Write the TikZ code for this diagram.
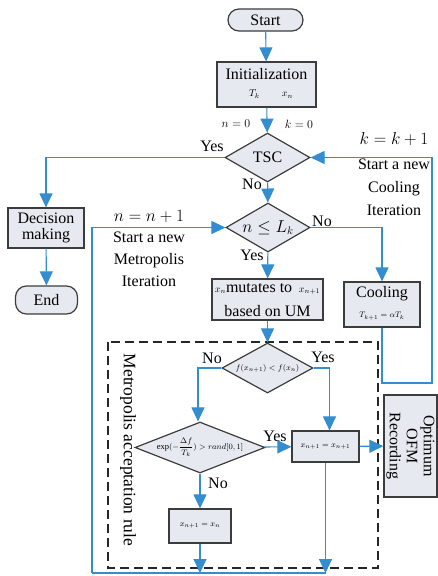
\documentclass[tikz,border=0pt]{standalone}
\usepackage{fontspec}
\setmainfont{Liberation Serif}
\usetikzlibrary{shapes.geometric,arrows.meta}
\definecolor{flowblue}{RGB}{52,141,207}
\definecolor{boxfill}{RGB}{230,234,240}
\definecolor{boxline}{RGB}{60,60,60}
\tikzset{
 box/.style={draw=boxline, fill=boxfill, line width=1.2pt, inner sep=1pt, align=center},
 term/.style={box, rounded corners=11pt},
 dia/.style={draw=boxline, fill=boxfill, line width=1.2pt, diamond, inner sep=0pt, align=center},
 flow/.style={draw=flowblue, line width=1.1pt, -{Triangle[length=14pt,width=13pt]}},
 plain/.style={draw=flowblue, line width=1.1pt},
 lbl/.style={inner sep=0pt, align=center},
 smallmath/.style={inner sep=0pt, font=\fontsize{10}{12}\selectfont},
 tinymath/.style={inner sep=0pt, font=\fontsize{8.5}{10}\selectfont},
 mbox/.style={draw=black!85, line width=2.6pt, dash pattern=on 9pt off 5pt},
}
\begin{document}
\begin{tikzpicture}[x=1pt,y=-1pt, font=\fontsize{16}{18}\selectfont]
\useasboundingbox (0,0) rectangle (437,576);

% dashed Metropolis box
\draw[mbox] (108,342) rectangle (378,568);
\node[lbl, rotate=-90, font=\fontsize{17.5}{20}\selectfont] (mar) at (128,450) {Metropolis acceptation rule};

% nodes
\node[term, minimum width=75pt, minimum height=22pt] (start) at (265.5,20) {Start};
\node[box, minimum width=99pt, minimum height=45pt] (init) at (266.5,84.5) {};
\node[lbl] (initT) at (266.5,74) {Initialization};
\node[smallmath] (initV) at (271,94) {$T_k$\hspace{22pt}$x_n$};
\node[lbl, font=\fontsize{13}{15}\selectfont] (n0) at (236,124) {$n=0$};
\node[lbl, font=\fontsize{13}{15}\selectfont] (k0) at (299,124) {$k=0$};

\node[dia, minimum width=85pt, minimum height=49pt] (tsc) at (267.5,157.5) {TSC};
\node[box, minimum width=76pt, minimum height=40pt] (dec) at (46,228) {Decision\\[-2pt]making};
\node[term, minimum width=62pt, minimum height=28pt] (end) at (46.5,300) {End};

\node[dia, minimum width=84pt, minimum height=49pt] (nl) at (268,227.5) {};
\node[lbl] (nlT) at (268,227.5) {$n\le L_k$};

\node[box, minimum width=111pt, minimum height=41pt] (mut) at (267.5,299.5) {};
\node[lbl] (mutA) at (267.5,289) {{\fontsize{10}{12}\selectfont$x_n$}mutates to \,{\fontsize{10}{12}\selectfont$x_{n+1}$}};
\node[lbl] (mutB) at (267.5,311) {based on UM};

\node[box, minimum width=76pt, minimum height=45pt] (cool) at (382,304.5) {};
\node[lbl] (coolA) at (382,294) {Cooling};
\node[tinymath] (coolB) at (382,316) {$T_{k+1}=\alpha T_k$};

\node[dia, minimum width=91pt, minimum height=50pt] (fd) at (267.5,368) {};
\node[tinymath] (fdT) at (267.5,368) {$f(x_{n+1})<f(x_n)$};

\node[dia, minimum width=130pt, minimum height=51pt] (ed) at (200,447.5) {};
\node[tinymath] (edT) at (200,447.5) {$\displaystyle\exp(-\frac{\Delta f}{T_k})>rand[0,1]$};

\node[box, minimum width=67pt, minimum height=31pt] (b1) at (325.5,446.5) {};
\node[tinymath] (b1T) at (325.5,446.5) {$x_{n+1}=x_{n+1}$};

\node[box, minimum width=62pt, minimum height=34pt] (b2) at (200,526) {};
\node[tinymath] (b2T) at (200,526) {$x_{n+1}=x_n$};

\node[box, minimum width=53pt, minimum height=102pt] (ofm) at (410.5,446) {};
\node[lbl, rotate=-90] (ofmT) at (410.5,446) {Optimum\\[-1pt]OFM\\[-1pt]Recording};

% side labels
\node[lbl] (nn) at (149,216) {$n=n+1$};
\node[lbl] (nn2) at (149,259) {Start a new\\[4pt]Metropolis\\[4pt]Iteration};
\node[lbl] (kk) at (394,139) {$k=k+1$};
\node[lbl] (kk2) at (394,187) {Start a new\\[5pt]Cooling\\[5pt]Iteration};

% yes/no labels
\node[lbl] (y1) at (212,146) {Yes};
\node[lbl] (no1) at (252,184) {No};
\node[lbl] (no2) at (322,221) {No};
\node[lbl] (y2) at (252,255) {Yes};
\node[lbl] (no3) at (212,358) {No};
\node[lbl] (y3) at (323,357) {Yes};
\node[lbl] (y4) at (275,436) {Yes};
\node[lbl] (no4) at (218,483) {No};

% coordinates
\coordinate (c1) at (382,383);
\coordinate (c2) at (432,383);
\coordinate (m0) at (92,573);
\coordinate (m1) at (200,573);
\coordinate (m2) at (325.5,573);

% connectors
\draw[flow] (start) -- (init);
\draw[flow] (init) -- (tsc);
\draw[flow] (tsc.west) -| (dec.north);
\draw[flow] (dec) -- (end);
\draw[flow] (tsc) -- (nl);
\draw[flow] (nl.east) -| (cool.north);
\draw[flow] (nl) -- (mut);
\draw[flow] (cool.south) -- (c1) -- (c2) |- (tsc.east);
\draw[flow] (mut) -- (fd);
\draw[flow] (fd.west) -| ([xshift=-2pt]ed.north);
\draw[flow] (fd.east) -| ([xshift=4pt]b1.north);
\draw[flow] (ed) -- (b1);
\draw[flow] (b1) -- (ofm);
\draw[flow] (ed) -- (b2);
\draw[flow] (b2) -- (m1);
\draw[flow] (b1) -- (m2);
\draw[plain] (m2) -- (m0);
\draw[flow] (m0) |- (nl.west);
\end{tikzpicture}
\end{document}
